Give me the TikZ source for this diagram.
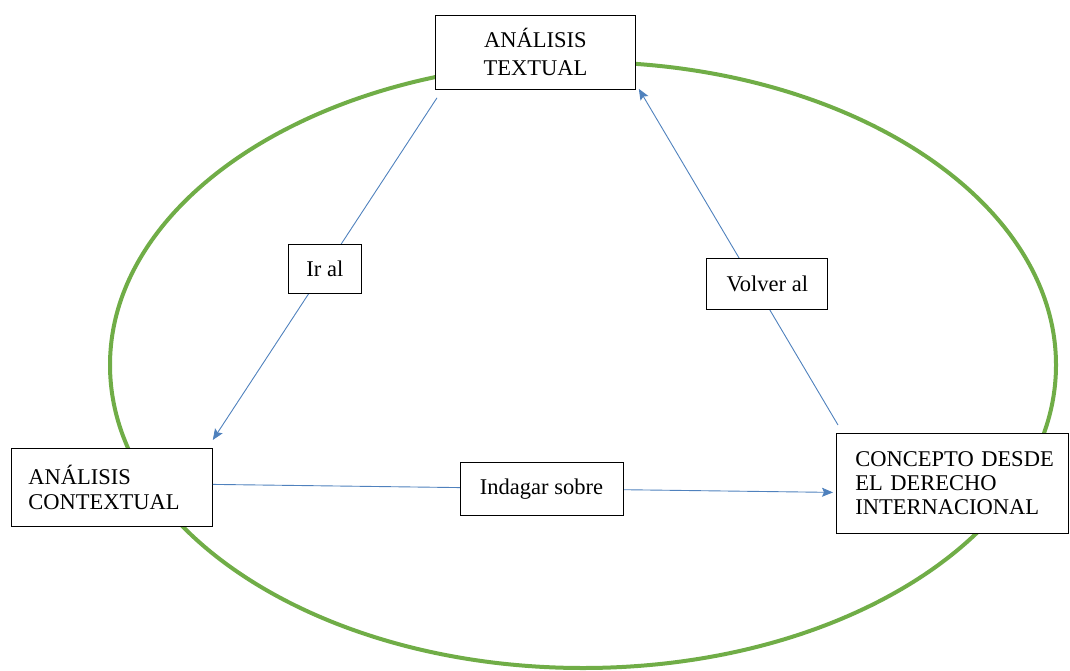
\documentclass[tikz,border=0pt]{standalone}
\usepackage{fontspec}
\setmainfont{Liberation Serif}
\usetikzlibrary{arrows.meta,calc}

\definecolor{cycle}{RGB}{112,173,71}
\definecolor{linkblue}{RGB}{79,129,189}

\begin{document}
\begin{tikzpicture}[x=1pt,y=-1pt,
		box/.style={rectangle, draw=black, fill=white, line width=0.8pt, inner sep=0pt, text=black, font=\fontsize{22.5}{25}\selectfont},
		tag/.style={box, minimum height=50pt, align=center},
		link/.style={draw=linkblue, line width=0.9pt, -{Stealth[length=11pt, width=9pt, inset=2pt]}}
	]
		\useasboundingbox (0,0) rectangle (1070,671);

		% green cycle behind everything
		\draw[cycle, line width=4pt] (583,365) ellipse [x radius=473pt, y radius=303pt];

		\node[box, anchor=north west, minimum width=200pt, minimum height=74pt, align=center, font=\fontsize{22.5}{28}\selectfont] (textual) at (435,15) {ANÁLISIS\\TEXTUAL};
		\node[box, anchor=north west, minimum width=201pt, minimum height=78pt, text width=167pt, align=left] (contextual) at (11,448) {ANÁLISIS\\CONTEXTUAL};
		\node[box, anchor=north west, minimum width=232pt, minimum height=100pt, text width=194pt, align=left, font=\fontsize{22.5}{24}\selectfont] (concepto) at (836,433) {\mbox{CONCEPTO DESDE}\\EL DERECHO\\INTERNACIONAL};

		\draw[link] ($(textual.south west)+(2,8)$) -- node[tag, pos=.5, minimum width=73pt, minimum height=49pt] (iral) {Ir al} ($(contextual.north east)+(0,-8)$);
		\draw[link] ($(concepto.north west)+(2,-8)$) -- node[tag, pos=.42, xshift=13pt, minimum width=121pt, minimum height=51pt] (volver) {Volver al} ($(textual.south east)+(3,-1)$);
		\draw[link] ($(contextual.east)+(0,-3)$) -- node[tag, pos=.53, minimum width=163pt, minimum height=53pt] (indagar) {Indagar sobre} ($(concepto.west)+(-3,9)$);
	\end{tikzpicture}
\end{document}
